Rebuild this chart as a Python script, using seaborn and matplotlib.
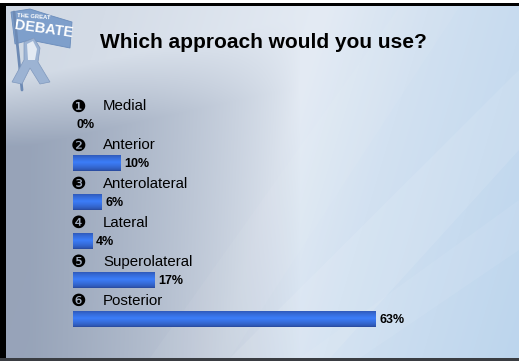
import numpy as np
import matplotlib
matplotlib.use("Agg")
import matplotlib.pyplot as plt
from matplotlib.patches import Polygon, Rectangle
import seaborn as sns

# Poll results
numerals = ["\u2776", "\u2777", "\u2778", "\u2779", "\u277a", "\u277b"]
approaches = ["Medial", "Anterior", "Anterolateral", "Lateral", "Superolateral", "Posterior"]
percents = [0, 10, 6, 4, 17, 63]
title = "Which approach would you use?"

sns.set_theme(style="white")
plt.rcParams["font.family"] = ["Liberation Sans", "DejaVu Sans"]

W, H = 519, 361
fig = plt.figure(figsize=(W / 100, H / 100), dpi=100)

# ---- slide background ----
bg = fig.add_axes([0, 0, 1, 1])
yy, xx = np.mgrid[0:H, 0:W].astype(float)
s = (xx + 0.3 * (yy - H)) / W
stops = np.array([-0.3, 0.0, 0.42, 0.62, 1.0])
cols = np.array([
    [205, 214, 226],
    [212, 220, 231],
    [228, 235, 244],
    [210, 225, 241],
    [188, 213, 237],
]) / 255.0
img = np.stack([np.interp(s, stops, cols[:, c]) for c in range(3)], axis=-1)
# grey wedge rising from the lower-left corner
yline = 82 - 0.22 * xx
d = np.clip((yy - yline) / 70, 0, 1) * np.clip(1 - xx / 300, 0, 1) ** 0.8
d = np.clip(d, 0, 0.92)
grey = np.array([146, 159, 181]) / 255.0
img = img * (1 - d[..., None]) + grey[None, None, :] * d[..., None]
bg.imshow(img, extent=(0, W, H, 0), aspect="auto", zorder=0)
bg.set_xlim(0, W)
bg.set_ylim(H, 0)
bg.axis("off")

# soft diagonal light streaks
for pts, a in [
    ([(230, 358), (330, 358), (519, 150), (519, 70)], 0.10),
    ([(300, 358), (360, 358), (519, 250), (519, 200)], 0.07),
    ([(150, 358), (230, 358), (460, 6), (400, 6)], 0.05),
]:
    bg.add_patch(Polygon(pts, closed=True, facecolor="white", alpha=a,
                         edgecolor="none", zorder=1))

# banner emblem
bg.add_patch(Polygon([(11, 12), (30, 9), (52, 16), (72, 22), (70, 48),
                      (50, 44), (30, 40), (15, 44)], closed=True,
                     facecolor="#7e9fcb", edgecolor="#6a8cbb", lw=0.6, zorder=2))
bg.plot([14, 22], [12, 90], color="#6d8ab4", lw=2.0, zorder=2)
bg.add_patch(Polygon([(24, 42), (34, 38), (40, 48), (38, 62), (50, 82),
                      (40, 84), (30, 68), (22, 84), (12, 82), (24, 60)],
                     closed=True, facecolor="#9cb3d3", edgecolor="#7f98bd",
                     lw=0.5, zorder=2))
bg.add_patch(Polygon([(27, 44), (33, 41), (37, 49), (35, 60), (28, 60)],
                     closed=True, facecolor="#e3eaf3", edgecolor="none", zorder=2))
bg.text(17, 17, "THE GREAT", color="white", fontsize=4.2, weight="bold",
        rotation=-4, va="center", ha="left", zorder=3)
bg.text(14, 29, "DEBATE", color="white", fontsize=10.5, weight="bold",
        rotation=-8, va="center", ha="left", zorder=3)

# slide frame
bg.add_patch(Rectangle((0, 0), W, 3, facecolor="white", edgecolor="none", zorder=4))
bg.add_patch(Rectangle((0, 3), W, 3, facecolor="black", edgecolor="none", zorder=4))
bg.add_patch(Rectangle((0, 3), 6, H - 3, facecolor="black", edgecolor="none", zorder=4))
bg.add_patch(Rectangle((0, 358), W, 3, facecolor="#3a3d42", edgecolor="none", zorder=4))

bg.text(263, 43, title, fontsize=15, weight="bold", color="black",
        ha="center", va="center", zorder=5)

# ---- bar chart ----
px_per_pct = 4.8
row_gap = 38.9
first_row = 124.5
left_px = 73
xmax = 80
ax_w = xmax * px_per_pct
top_px = first_row - 0.5 * row_gap
bot_px = first_row + 5.5 * row_gap
ax = fig.add_axes([left_px / W, 1 - bot_px / H, ax_w / W, (bot_px - top_px) / H])
ax.patch.set_alpha(0)

sns.barplot(x=percents, y=approaches, orient="h", ax=ax, width=0.41,
            color="#3a78ef", linewidth=0, saturation=1)
ax.set_xlim(0, xmax)
ax.set_ylim(5.5, -0.5)
ax.axis("off")

# glossy vertical shading on each bar
prof = np.linspace(0, 1, 64)
edge = np.array([40, 70, 150]) / 255.0
mid = np.array([60, 125, 248]) / 255.0
w = np.clip(1 - np.abs(prof - 0.45) / 0.55, 0, 1) ** 0.6
grad = (edge[None, :] * (1 - w[:, None]) + mid[None, :] * w[:, None])[:, None, :]
for p in ax.patches:
    b = p.get_bbox()
    if b.width <= 0:
        continue
    im = ax.imshow(grad, extent=(b.x0, b.x1, b.y1, b.y0), aspect="auto",
                   origin="upper", zorder=3)
    im.set_clip_path(p)
ax.set_xlim(0, xmax)
ax.set_ylim(5.5, -0.5)

for i, (num, name, v) in enumerate(zip(numerals, approaches, percents)):
    ax.annotate(num, xy=(0, i), xytext=(3.8, 13), textcoords="offset points",
                ha="center", va="center", fontsize=12.5, family="DejaVu Sans",
                color="black")
    ax.annotate(name, xy=(0, i), xytext=(21.6, 13), textcoords="offset points",
                ha="left", va="center", fontsize=10.8, color="black")
    ax.annotate(f"{v}%", xy=(v, i), xytext=(2.6, -0.5), textcoords="offset points",
                ha="left", va="center", fontsize=9, weight="bold", color="black")

fig.savefig("out.png", dpi=100)
